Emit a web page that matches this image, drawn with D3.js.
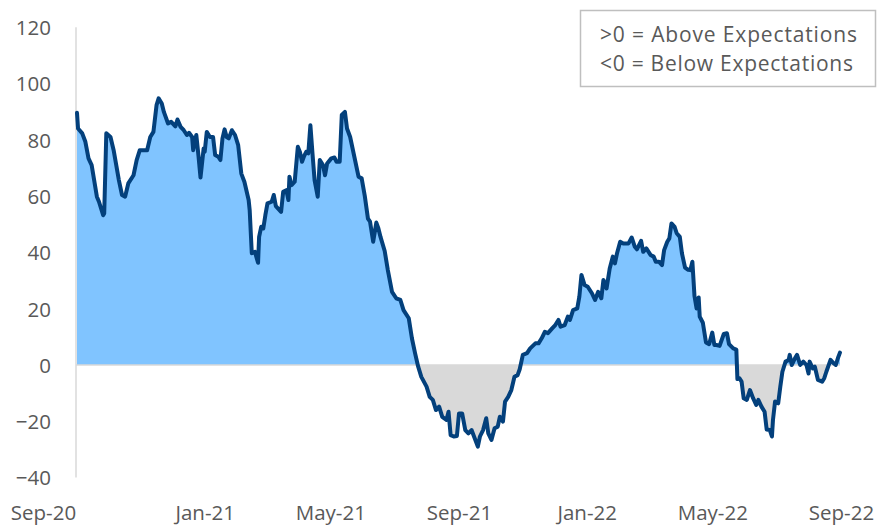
<!DOCTYPE html>
<html>
<head>
<meta charset="utf-8">
<script src="https://cdn.jsdelivr.net/npm/d3@7"></script>
<style>
  html, body { margin: 0; padding: 0; background: #fff; }
  svg { display: block; }
  text { font-family: "Open Sans", "Noto Sans", sans-serif; fill: #595959; }
</style>
</head>
<body>
<svg id="chart" width="877" height="526"></svg>
<script>
// ---- Data ----
const dates = [
"2020-09-01","2020-09-02","2020-09-06","2020-09-09","2020-09-12","2020-09-15","2020-09-20","2020-09-22","2020-09-26","2020-09-27","2020-09-29",
"2020-10-03","2020-10-06","2020-10-11","2020-10-14","2020-10-17","2020-10-20","2020-10-25","2020-10-28","2020-10-31",
"2020-11-07","2020-11-10","2020-11-13","2020-11-16","2020-11-18","2020-11-21","2020-11-23","2020-11-27","2020-11-30",
"2020-12-04","2020-12-06","2020-12-09","2020-12-12","2020-12-15","2020-12-17","2020-12-20","2020-12-21","2020-12-24","2020-12-26","2020-12-28","2020-12-31",
"2021-01-01","2021-01-03","2021-01-06","2021-01-09","2021-01-11","2021-01-14","2021-01-16","2021-01-18","2021-01-20","2021-01-22","2021-01-24","2021-01-27","2021-01-30",
"2021-02-02","2021-02-05","2021-02-08","2021-02-12","2021-02-13","2021-02-15","2021-02-18","2021-02-21","2021-02-22","2021-02-24","2021-02-26","2021-02-28",
"2021-03-02","2021-03-06","2021-03-08","2021-03-10","2021-03-15","2021-03-17","2021-03-20","2021-03-22","2021-03-23","2021-03-25","2021-03-28","2021-03-31",
"2021-04-02","2021-04-04","2021-04-06","2021-04-08","2021-04-10","2021-04-12","2021-04-14","2021-04-16","2021-04-19","2021-04-21","2021-04-24","2021-04-26","2021-04-28",
"2021-05-02","2021-05-05","2021-05-07","2021-05-10","2021-05-12","2021-05-15","2021-05-17","2021-05-20","2021-05-25","2021-05-28","2021-05-31",
"2021-06-03","2021-06-06","2021-06-08","2021-06-11","2021-06-14","2021-06-16","2021-06-18","2021-06-22","2021-06-25","2021-06-29",
"2021-07-03","2021-07-07","2021-07-10","2021-07-15","2021-07-18","2021-07-21","2021-07-24","2021-07-27",
"2021-08-01","2021-08-04","2021-08-07","2021-08-10","2021-08-13","2021-08-16","2021-08-20","2021-08-22","2021-08-24","2021-08-27","2021-08-30",
"2021-09-01","2021-09-04","2021-09-07","2021-09-10","2021-09-13","2021-09-16","2021-09-19","2021-09-21","2021-09-24","2021-09-27","2021-09-29",
"2021-10-02","2021-10-05","2021-10-08","2021-10-10","2021-10-13","2021-10-15","2021-10-18","2021-10-21","2021-10-24","2021-10-27","2021-10-29",
"2021-11-01","2021-11-05","2021-11-08","2021-11-13","2021-11-16","2021-11-19","2021-11-22","2021-11-25","2021-11-29",
"2021-12-02","2021-12-05","2021-12-07","2021-12-11","2021-12-14","2021-12-16","2021-12-19","2021-12-23","2021-12-25","2021-12-27","2021-12-30",
"2022-01-02","2022-01-06","2022-01-09","2022-01-12","2022-01-15","2022-01-17","2022-01-20","2022-01-23","2022-01-26","2022-01-28","2022-01-30",
"2022-02-02","2022-02-05","2022-02-10","2022-02-13","2022-02-16","2022-02-18","2022-02-22","2022-02-24","2022-02-27",
"2022-03-03","2022-03-06","2022-03-08","2022-03-11","2022-03-14","2022-03-16","2022-03-19","2022-03-21","2022-03-23","2022-03-26","2022-03-28","2022-03-31",
"2022-04-02","2022-04-05","2022-04-08","2022-04-10","2022-04-12","2022-04-14","2022-04-16","2022-04-18","2022-04-19","2022-04-22","2022-04-25","2022-04-28",
"2022-05-01","2022-05-03","2022-05-05","2022-05-08","2022-05-12","2022-05-15","2022-05-17","2022-05-21","2022-05-24","2022-05-25","2022-05-27","2022-05-29","2022-05-31",
"2022-06-03","2022-06-06","2022-06-09","2022-06-12","2022-06-14","2022-06-17","2022-06-20","2022-06-22","2022-06-25","2022-06-27","2022-06-28","2022-06-30",
"2022-07-03","2022-07-05","2022-07-07","2022-07-10","2022-07-13","2022-07-14","2022-07-16","2022-07-19","2022-07-21","2022-07-24","2022-07-27","2022-07-30",
"2022-08-01","2022-08-02","2022-08-05","2022-08-07","2022-08-10","2022-08-14","2022-08-16","2022-08-18","2022-08-22","2022-08-25","2022-08-27","2022-08-29","2022-08-31"
];
const values = [
89.6,84,82.3,79.3,73.4,71,59.8,58,53.2,53.8,82.3,
81,76.3,65.7,60.4,59.8,64.5,67.4,72.8,76.3,
76.3,81,82.8,92.3,94.7,92.9,89.9,85.8,86.4,
84.8,87.2,84.6,83.4,81.7,82.5,81,76.3,81.7,74.6,66.6,76.9,
75.7,82.8,81,81,74.6,74,72.8,80.5,83.7,81,80.5,83.4,81.7,
78.1,68,65,58.6,55,39.7,40.2,36.3,45.5,49.1,48.5,53.3,
57.4,58,60.4,56.4,54.4,61.5,62.1,58.6,66.9,63.9,65.1,77.5,
75.7,72.2,74.2,75.7,75.2,85.2,75.2,65.7,59.8,72.8,71,67.4,71.6,
73.4,73.7,72.2,72.2,88.8,89.9,84,81,72.2,66.9,66.3,
60,52,50.9,43.8,50.6,48.5,45.5,40.5,33.7,26,
23.7,23.1,19.5,16.6,9.5,4.2,-0.6,-4.2,
-7.7,-11.3,-12.4,-16,-14.8,-18.4,-19.5,-16.6,-24.9,-25.4,-25.2,
-17.2,-17.2,-23.1,-24.3,-23.1,-26,-29,-25.4,-23.1,-18.9,-24.3,
-26.6,-22.5,-21.9,-18.4,-20.1,-13,-11.3,-8.9,-4.2,-3.6,-1.5,
3.6,4.2,5.9,7.7,7.7,9.5,11.8,11.3,13,
14.2,16,13.6,14.2,17.2,16,19.5,20.1,24.3,32,28.4,
27.8,25.5,23.1,26,23.7,30.2,27.2,34.3,38.5,36.1,39.7,
43.8,43.2,43.2,45.3,42,41.1,44.1,40.2,41.4,
39.1,38.5,36.7,36.7,35.5,40.8,43.8,45,50.3,49.1,46.8,45.5,
39.7,34.6,33.8,33.7,36.7,24.5,20.1,24,17.2,15,8,7.4,
11.5,7.1,7.1,6.8,11,11.3,7.4,5.9,5.5,-5,-4.7,-5.9,-11.8,
-12.4,-8.9,-11.8,-14.2,-12.4,-14.8,-16.6,-22.9,-23.1,-25.4,-19.5,-13,
-13.6,-7.7,-2.4,1.2,1.8,3.6,0,2.4,3.6,0,1.2,0,
-3,1.2,-1.2,-0.6,-5.3,-5.9,-4.7,-2.4,1.8,0.6,0,2.4,4.4
];
const yTicks = [-40,-20,0,20,40,60,80,100,120];
const xTickDates = ["2020-09-01","2021-01-01","2021-05-01","2021-09-01","2022-01-01","2022-05-01","2022-09-01"];
const legendLines = [">0 = Above Expectations", "<0 = Below Expectations"];

// ---- Setup ----
const parse = d3.utcParse("%Y-%m-%d");
const data = dates.map((d, i) => ({ date: parse(d), value: values[i] }));

const svg = d3.select("#chart");
const W = 877, H = 526;

const x = d3.scaleUtc()
  .domain([parse("2020-09-01"), parse("2022-09-01")])
  .range([77, 841]);
const y = d3.scaleLinear()
  .domain([-40, 120])
  .range([477.6, 27.2]);

const defs = svg.append("defs");
defs.append("clipPath").attr("id", "clipAbove")
  .append("rect").attr("x", 0).attr("y", 0).attr("width", W).attr("height", y(0));
defs.append("clipPath").attr("id", "clipBelow")
  .append("rect").attr("x", 0).attr("y", y(0)).attr("width", W).attr("height", H - y(0));

// y axis
const yAxis = d3.axisLeft(y).tickValues(yTicks).tickSize(0).tickPadding(0).tickFormat(d3.format("d"));
const gy = svg.append("g").attr("transform", "translate(51,0)").call(yAxis);
gy.select(".domain").remove();
gy.selectAll("text")
  .style("font-family", '"Open Sans", "Noto Sans", sans-serif')
  .style("font-size", "20.5px")
  .attr("fill", "#595959")
  .attr("dy", "0.36em");

// vertical axis line
svg.append("line")
  .attr("x1", 76).attr("x2", 76)
  .attr("y1", y(120)).attr("y2", y(-40))
  .attr("stroke", "#d9d9d9").attr("stroke-width", 1.5);

// areas
const area = d3.area()
  .x(d => x(d.date))
  .y0(y(0))
  .y1(d => y(d.value));

svg.append("path").datum(data)
  .attr("clip-path", "url(#clipAbove)")
  .attr("fill", "#80c4ff")
  .attr("d", area);
svg.append("path").datum(data)
  .attr("clip-path", "url(#clipBelow)")
  .attr("fill", "#d9d9d9")
  .attr("d", area);

// zero line
svg.append("line")
  .attr("x1", 76).attr("x2", x(data[data.length - 1].date))
  .attr("y1", y(0)).attr("y2", y(0))
  .attr("stroke", "#d9d9d9").attr("stroke-width", 1.5);

// data line
const line = d3.line()
  .x(d => x(d.date))
  .y(d => y(d.value));
svg.append("path").datum(data)
  .attr("fill", "none")
  .attr("stroke", "#03407c")
  .attr("stroke-width", 4)
  .attr("stroke-linejoin", "round")
  .attr("stroke-linecap", "round")
  .attr("d", line);

// x axis
const xAxis = d3.axisBottom(x)
  .tickValues(xTickDates.map(parse))
  .tickSize(0).tickPadding(0)
  .tickFormat(d3.utcFormat("%b-%y"));
const gx = svg.append("g").attr("transform", "translate(0,505)").call(xAxis);
gx.select(".domain").remove();
gx.selectAll("text")
  .style("font-family", '"Open Sans", "Noto Sans", sans-serif')
  .style("font-size", "20.5px")
  .attr("fill", "#595959")
  .attr("dy", "0.71em");
gx.selectAll(".tick").filter((d, i) => i === 0).select("text").attr("dx", -34);

// legend box
const legendWidths = [257, 253];
const lg = svg.append("g");
lg.append("rect")
  .attr("x", 580.5).attr("y", 10.5).attr("width", 295).attr("height", 76)
  .attr("fill", "#fff").attr("stroke", "#bfbfbf").attr("stroke-width", 1.5);
lg.selectAll("text.leg").data(legendLines).join("text")
  .attr("class", "leg")
  .attr("x", 600)
  .attr("y", (d, i) => 42 + i * 29)
  .attr("textLength", (d, i) => legendWidths[i])
  .attr("lengthAdjust", "spacing")
  .style("font-size", "21px")
  .text(d => d);
</script>
</body>
</html>
